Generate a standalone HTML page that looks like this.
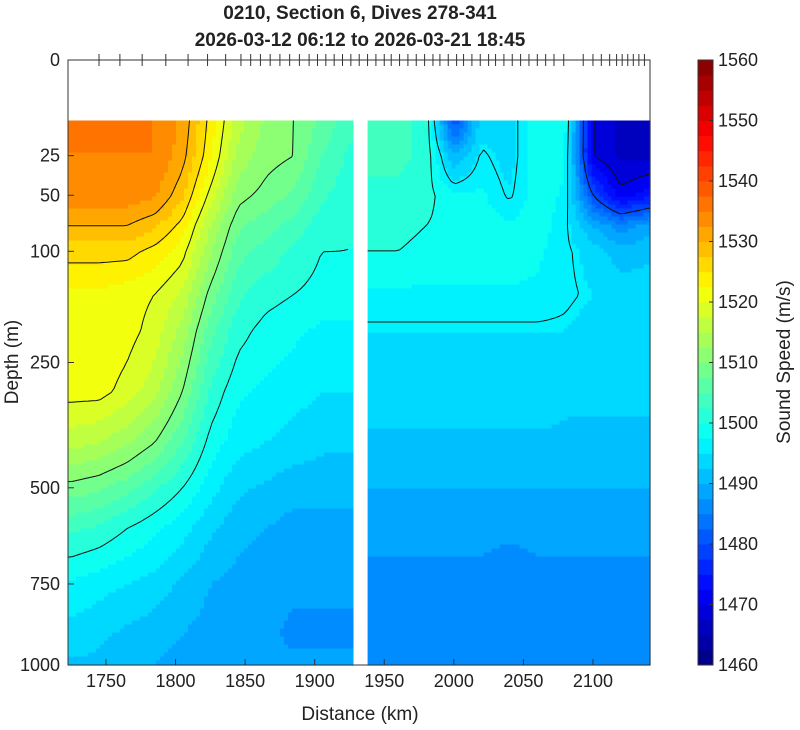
<!DOCTYPE html>
<html><head><meta charset="utf-8"><style>
body{margin:0;background:#fff;font-family:"Liberation Sans",sans-serif}
svg text{font-family:"Liberation Sans",sans-serif;fill:#222}
</style></head><body>
<svg id="chart" width="800" height="725" viewBox="0 0 800 725" xmlns="http://www.w3.org/2000/svg">
<text x="360" y="19" text-anchor="middle" font-size="19" font-weight="bold">0210, Section 6, Dives 278-341</text>
<text x="360" y="46" text-anchor="middle" font-size="19" font-weight="bold">2026-03-12 06:12 to 2026-03-21 18:45</text>
<g id="cells"></g>
<g id="contours"></g>
<g id="axes"></g>
<g id="cbar"></g>
<text x="360" y="720" text-anchor="middle" font-size="19">Distance (km)</text>
<text transform="translate(18,362) rotate(-90)" text-anchor="middle" font-size="19">Depth (m)</text>
<text transform="translate(790,362) rotate(-90)" text-anchor="middle" font-size="19">Sound Speed (m/s)</text>
</svg>
<script>
const distances=[1725,1745,1765,1785,1805,1825,1845,1865,1885,1905,1925,1940,1960,1980,2000,2020,2040,2060,2080,2100,2120,2140];
const depths=[10,25,50,75,100,150,200,300,400,500,600,750,900,1000];
const gapAfterIndex=10;
const profiles=[
[1535,1535,1534,1530,1526,1522,1522,1521,1516,1509,1503,1497,1494,1492],
[1535,1535,1534,1530,1526,1522,1522,1521,1515,1508,1502,1496,1493,1492],
[1535,1535,1534,1530,1526,1521,1521,1519,1513,1506,1500,1495,1492,1491],
[1535,1535,1533,1528,1524,1520,1519,1516,1510,1503,1498,1494,1491,1490],
[1532,1531,1528,1524,1521,1517,1514,1510,1505,1500,1496,1492,1490,1489],
[1524,1523,1519,1515,1513,1509,1506,1502,1499,1496,1493,1490,1489,1489],
[1516,1514,1511,1508,1506,1503,1501,1498,1496,1493,1491,1489,1488,1488],
[1512,1511,1509,1506,1504,1501,1499,1497,1495,1492,1490,1488,1488,1488],
[1510,1510,1507,1504,1502,1500,1498,1496,1494,1491,1489,1488,1487,1488],
[1507,1505,1503,1501,1500,1499,1497,1495,1493,1491,1489,1488,1487,1488],
[1503,1502,1501,1500,1500,1499,1497,1495,1493,1491,1489,1488,1487,1488],
[1503,1503,1502,1501,1500,1497,1495,1494,1492,1490,1488,1487,1487,1487],
[1503,1503,1502,1501,1500,1497,1495,1494,1492,1490,1488,1487,1487,1487],
[1502,1502,1501,1500,1499,1497,1495,1494,1492,1490,1488,1487,1487,1487],
[1480,1490,1498,1499,1499,1497,1495,1494,1492,1490,1488,1487,1487,1487],
[1494,1496,1498,1499,1499,1497,1495,1494,1492,1490,1488,1487,1487,1487],
[1494,1494,1495,1498,1499,1497,1495,1494,1492,1490,1488,1486,1487,1487],
[1499,1499,1499,1499,1498,1497,1495,1494,1492,1490,1488,1487,1487,1487],
[1499,1498,1497,1496,1496,1496,1495,1493,1492,1490,1488,1487,1487,1487],
[1470,1470,1480,1490,1494,1495,1494,1493,1492,1490,1488,1487,1487,1487],
[1467,1467,1471,1486,1491,1494,1494,1493,1492,1490,1488,1487,1487,1487],
[1467,1467,1474,1489,1492,1494,1494,1493,1492,1490,1488,1487,1487,1487]];
const diveDistances=[1745,1760,1776,1793,1809,1823,1836,1847,1854,1861,1868,1875,1882,1889,1896,1902,1908,1914,1920,1926,1932,1938,1944,1950,1955,1961,1967,1973,1979,1985,1990,1996,2002,2007,2013,2019,2025,2030,2036,2042,2048,2054,2060,2066,2072,2079,2093,2100,2106,2112,2117,2121,2125,2129,2133,2137];
const xTicks=[1750,1800,1850,1900,1950,2000,2050,2100];
const yTicks=[0,25,50,100,250,500,750,1000];
const cbTicks=[1460,1470,1480,1490,1500,1510,1520,1530,1540,1550,1560];
const contourLevelsLeft=[1500,1510,1520,1525,1530];
const contourLevelsRight=[1470,1480,1495.5,1500];

const NS='http://www.w3.org/2000/svg';
const X0=68,X1=650,Y0=60,Y1=665,D0=1722.7,D1=2141;
const xs=d=>X0+(d-D0)/(D1-D0)*(X1-X0);
const ys=z=>Y0+Math.sqrt(z)/Math.sqrt(1000)*(Y1-Y0);
const zInv=y=>Math.pow((y-Y0)/(Y1-Y0)*Math.sqrt(1000),2);
const dInv=x=>D0+(x-X0)/(X1-X0)*(D1-D0);
const VMIN=1460,VMAX=1560;
function jet(v){let t=(v-VMIN)/(VMAX-VMIN);t=Math.max(0,Math.min(1,t));
 const c=x=>Math.round(255*Math.max(0,Math.min(1,x)));
 return `rgb(${c(1.5-Math.abs(4*t-3))},${c(1.5-Math.abs(4*t-2))},${c(1.5-Math.abs(4*t-1))})`;}
const q=v=>Math.floor((v-VMIN)/2.5)*2.5+VMIN+1.25;
function el(tag,attrs,parent){const e=document.createElementNS(NS,tag);for(const k in attrs)e.setAttribute(k,attrs[k]);parent.appendChild(e);return e;}
function interp(arr,v){let i=0;while(i<arr.length-2&&v>arr[i+1])i++;let t=(v-arr[i])/(arr[i+1]-arr[i]);return [i,Math.max(0,Math.min(1,t))];}
function value(d,z,sec){const lo=sec?gapAfterIndex+1:0,hi=sec?distances.length-1:gapAfterIndex;
 const sub=distances.slice(lo,hi+1);const [i,t]=interp(sub,d);const [j,u]=interp(depths,z);
 const a=profiles[lo+i],b=profiles[lo+i+1];
 return (1-t)*((1-u)*a[j]+u*a[j+1])+t*((1-u)*b[j]+u*b[j+1]);}
const cells=document.getElementById('cells');
const sections=[[X0,xs(1927.5),0],[xs(1938),X1,1]];
const STEP=4,YTOP=ys(10);
const grids=[];
sections.forEach(([xa,xb,sec])=>{
 const nx=Math.ceil((xb-xa)/STEP),ny=Math.ceil((Y1-YTOP)/STEP);const g=[];
 for(let i=0;i<=nx;i++){g.push([]);for(let j=0;j<=ny;j++){const x=Math.min(xa+i*STEP,xb),y=Math.min(YTOP+j*STEP,Y1);g[i].push(value(dInv(x),zInv(y),sec));}}
 grids.push({xa,xb,nx,ny,g,sec});
 for(let i=0;i<nx;i++)for(let j=0;j<ny;j++){
  const x=xa+i*STEP,y=YTOP+j*STEP;const v=(g[i][j]+g[i+1][j]+g[i][j+1]+g[i+1][j+1])/4;
  const r=el('rect',{x:x.toFixed(1),y:y.toFixed(1),width:(Math.min(STEP,xb-x)+0.6).toFixed(1),height:(Math.min(STEP,Y1-y)+0.6).toFixed(1),fill:jet(q(v))},cells);
  
  
 }});
const cg=document.getElementById('contours');
grids.forEach(({xa,xb,nx,ny,g,sec})=>{(sec?contourLevelsRight:contourLevelsLeft).forEach(L=>{let dstr='';
 const px=i=>Math.min(xa+i*STEP,xb),py=j=>Math.min(YTOP+j*STEP,Y1);
 for(let i=0;i<nx;i++)for(let j=0;j<ny;j++){
  const c=[[i,j],[i+1,j],[i+1,j+1],[i,j+1]];const pts=[];
  for(let k=0;k<4;k++){const [a1,b1]=c[k],[a2,b2]=c[(k+1)%4];const v1=g[a1][b1],v2=g[a2][b2];
   if((v1-L)*(v2-L)<0){const t=(L-v1)/(v2-v1);pts.push([px(a1)+t*(px(a2)-px(a1)),py(b1)+t*(py(b2)-py(b1))]);}}
  if(pts.length>=2)dstr+=`M${pts[0][0].toFixed(1)},${pts[0][1].toFixed(1)}L${pts[1][0].toFixed(1)},${pts[1][1].toFixed(1)}`;
  if(pts.length===4)dstr+=`M${pts[2][0].toFixed(1)},${pts[2][1].toFixed(1)}L${pts[3][0].toFixed(1)},${pts[3][1].toFixed(1)}`;}
 if(dstr){const p=el('path',{d:dstr,stroke:'#111',fill:'none','stroke-width':1},cg);
  
  }});});
const ax=document.getElementById('axes');
el('rect',{x:X0,y:Y0,width:X1-X0,height:Y1-Y0,fill:'none',stroke:'#333','stroke-width':1},ax);
xTicks.forEach(d=>{const x=xs(d);
 const t=el('line',{x1:x,x2:x,y1:Y1,y2:Y1-6,stroke:'#333'},ax);
 const l=el('text',{x:x,y:Y1+22,'text-anchor':'middle','font-size':18},ax);l.textContent=d;});
yTicks.forEach(z=>{const y=ys(z);
 const t=el('line',{x1:X0,x2:X0+6,y1:y,y2:y,stroke:'#333'},ax);
 const l=el('text',{x:X0-8,y:y+6,'text-anchor':'end','font-size':18},ax);l.textContent=z;});
diveDistances.forEach(d=>{const x=xs(d);
 const t=el('line',{x1:x,x2:x,y1:Y0-6,y2:Y0+6,stroke:'#333'},ax);});
const cb=document.getElementById('cbar');const CX=698,CW=15;
const cby=v=>Y1-(v-VMIN)/(VMAX-VMIN)*(Y1-Y0);
for(let v=VMIN;v<VMAX;v+=2.5){const r=el('rect',{x:CX,y:cby(v+2.5),width:CW,height:(cby(v)-cby(v+2.5)+0.5),fill:jet(v+1.25)},cb);
 }
el('rect',{x:CX,y:Y0,width:CW,height:Y1-Y0,fill:'none',stroke:'#333'},cb);
cbTicks.forEach(v=>{const y=cby(v);
 el('line',{x1:CX+CW-4,x2:CX+CW,y1:y,y2:y,stroke:'#333'},cb);
 const l=el('text',{x:CX+CW+5,y:y+6,'font-size':18},cb);l.textContent=v;});
</script>
</body></html>
